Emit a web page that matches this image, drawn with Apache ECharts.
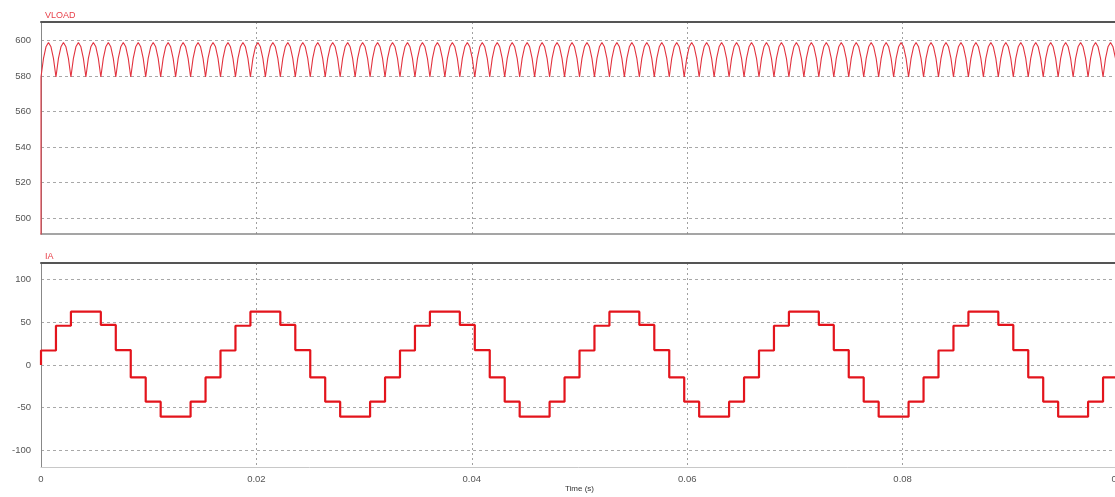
<!DOCTYPE html>
<html>
<head>
<meta charset="utf-8">
<script src="https://cdn.jsdelivr.net/npm/echarts@6/dist/echarts.min.js"></script>
<style>
html,body{margin:0;padding:0;background:#fff;}
#c{width:1115px;height:497px;}
</style>
</head>
<body>
<div id="c"></div>
<script>
// ---- data ----
const timeTicks = [0, 0.02, 0.04, 0.06, 0.08, 0.1];
const vloadTicks = [500, 520, 540, 560, 580, 600];
const iaTicks = [-100, -50, 0, 50, 100];

// VLOAD (V): sampled every vloadDt seconds from t = 0, after the start-up jump from 0 V
const vloadStartup = [0];
const vloadDt = 0.00023148;
const vloadValues = [
579.5,590,596.5,599,596.5,590,579.5,590,596.5,599,596.5,590,
579.5,590,596.5,599,596.5,590,579.5,590,596.5,599,596.5,590,
579.5,590,596.5,599,596.5,590,579.5,590,596.5,599,596.5,590,
579.5,590,596.5,599,596.5,590,579.5,590,596.5,599,596.5,590,
579.5,590,596.5,599,596.5,590,579.5,590,596.5,599,596.5,590,
579.5,590,596.5,599,596.5,590,579.5,590,596.5,599,596.5,590,
579.5,590,596.5,599,596.5,590,579.5,590,596.5,599,596.5,590,
579.5,590,596.5,599,596.5,590,579.5,590,596.5,599,596.5,590,
579.5,590,596.5,599,596.5,590,579.5,590,596.5,599,596.5,590,
579.5,590,596.5,599,596.5,590,579.5,590,596.5,599,596.5,590,
579.5,590,596.5,599,596.5,590,579.5,590,596.5,599,596.5,590,
579.5,590,596.5,599,596.5,590,579.5,590,596.5,599,596.5,590,
579.5,590,596.5,599,596.5,590,579.5,590,596.5,599,596.5,590,
579.5,590,596.5,599,596.5,590,579.5,590,596.5,599,596.5,590,
579.5,590,596.5,599,596.5,590,579.5,590,596.5,599,596.5,590,
579.5,590,596.5,599,596.5,590,579.5,590,596.5,599,596.5,590,
579.5,590,596.5,599,596.5,590,579.5,590,596.5,599,596.5,590,
579.5,590,596.5,599,596.5,590,579.5,590,596.5,599,596.5,590,
579.5,590,596.5,599,596.5,590,579.5,590,596.5,599,596.5,590,
579.5,590,596.5,599,596.5,590,579.5,590,596.5,599,596.5,590,
579.5,590,596.5,599,596.5,590,579.5,590,596.5,599,596.5,590,
579.5,590,596.5,599,596.5,590,579.5,590,596.5,599,596.5,590,
579.5,590,596.5,599,596.5,590,579.5,590,596.5,599,596.5,590,
579.5,590,596.5,599,596.5,590,579.5,590,596.5,599,596.5,590,
579.5,590,596.5,599,596.5,590,579.5,590,596.5,599,596.5,590,
579.5,590,596.5,599,596.5,590,579.5,590,596.5,599,596.5,590,
579.5,590,596.5,599,596.5,590,579.5,590,596.5,599,596.5,590,
579.5,590,596.5,599,596.5,590,579.5,590,596.5,599,596.5,590,
579.5,590,596.5,599,596.5,590,579.5,590,596.5,599,596.5,590,
579.5,590,596.5,599,596.5,590,579.5,590,596.5,599,596.5,590,
579.5,590,596.5,599,596.5,590,579.5,590,596.5,599,596.5,590,
579.5,590,596.5,599,596.5,590,579.5,590,596.5,599,596.5,590,
579.5,590,596.5,599,596.5,590,579.5,590,596.5,599,596.5,590,
579.5,590,596.5,599,596.5,590,579.5,590,596.5,599,596.5,590,
579.5,590,596.5,599,596.5,590,579.5,590,596.5,599,596.5,590,
579.5,590,596.5,599,596.5,590,579.5,590,596.5,599,596.5,590,
579.5
];

// IA (A): one level per commutation step of iaStepDur seconds, from t = 0
const iaStartup = [0];
const iaStepDur = 0.00138889;
const iaSteps = [
17,46,62.5,62.5,47,17.5,-14.5,-43,-60.5,-60.5,-43,-14.5,
17,46,62.5,62.5,47,17.5,-14.5,-43,-60.5,-60.5,-43,-14.5,
17,46,62.5,62.5,47,17.5,-14.5,-43,-60.5,-60.5,-43,-14.5,
17,46,62.5,62.5,47,17.5,-14.5,-43,-60.5,-60.5,-43,-14.5,
17,46,62.5,62.5,47,17.5,-14.5,-43,-60.5,-60.5,-43,-14.5,
17,46,62.5,62.5,47,17.5,-14.5,-43,-60.5,-60.5,-43,-14.5
];

// ---- build series data ----
const vloadData = vloadStartup.map(v => [0, v]).concat(vloadValues.map((v, i) => [i * vloadDt, v]));
const iaData = iaStartup.map(v => [0, v]).concat(iaSteps.map((v, i) => [i * iaStepDur, v]));
iaData.push([iaSteps.length * iaStepDur, iaSteps[iaSteps.length - 1]]);

const FONT = 'Liberation Sans, Arial, sans-serif';
const gridLine = { show: true, lineStyle: { color: '#a8a8a8', type: [3, 3], width: 1 } };
const vGridLine = { show: true, lineStyle: { color: '#a0a0a0', type: [2, 3], width: 1 } };

function timeAxis(gridIndex, showLabels, lineColor, lineWidth) {
  return {
    type: 'value', gridIndex: gridIndex, position: 'bottom',
    min: timeTicks[0], max: timeTicks[timeTicks.length - 1], interval: 0.02,
    axisLine: { show: true, onZero: false, lineStyle: { color: lineColor, width: lineWidth } },
    axisTick: { show: false },
    axisLabel: { show: showLabels, color: '#555', fontSize: 9.5, fontFamily: FONT, margin: 7 },
    splitLine: vGridLine
  };
}
function frameAxis(gridIndex) {
  return {
    type: 'value', gridIndex: gridIndex, position: 'top',
    min: timeTicks[0], max: timeTicks[timeTicks.length - 1],
    axisLine: { show: true, onZero: false, lineStyle: { color: '#555', width: 2 } },
    axisTick: { show: false }, axisLabel: { show: false }, splitLine: { show: false }
  };
}

const chart = echarts.init(document.getElementById('c'), null, { renderer: 'canvas' });
chart.setOption({
  animation: false,
  backgroundColor: '#ffffff',
  title: [
    { text: 'VLOAD', left: 40, top: 6, textStyle: { fontSize: 9, fontWeight: 'normal', color: '#e8404a', fontFamily: FONT } },
    { text: 'IA', left: 40, top: 247, textStyle: { fontSize: 9, fontWeight: 'normal', color: '#e8404a', fontFamily: FONT } }
  ],
  grid: [
    { left: 41, right: -3, top: 22, height: 212, outerBoundsMode: 'none', containLabel: false },
    { left: 41, right: -3, top: 263, height: 204, outerBoundsMode: 'none', containLabel: false }
  ],
  xAxis: [
    timeAxis(0, false, '#888', 1.5),
    frameAxis(0),
    Object.assign(timeAxis(1, true, '#c8c8c8', 1), {
      name: 'Time (s)', nameLocation: 'middle', nameGap: 18,
      nameTextStyle: { fontSize: 8, color: '#333', fontFamily: FONT }
    }),
    frameAxis(1)
  ],
  yAxis: [
    {
      type: 'value', gridIndex: 0, min: 491, max: 610.5,
      axisLine: { show: true, onZero: false, lineStyle: { color: '#888', width: 1 } },
      axisTick: { show: false, customValues: vloadTicks },
      axisLabel: { color: '#555', fontSize: 9.5, fontFamily: FONT, margin: 10, customValues: vloadTicks },
      splitLine: gridLine
    },
    {
      type: 'value', gridIndex: 1, min: -119.5, max: 119.5,
      axisLine: { show: true, onZero: false, lineStyle: { color: '#888', width: 1 } },
      axisTick: { show: false, customValues: iaTicks },
      axisLabel: { color: '#555', fontSize: 9.5, fontFamily: FONT, margin: 10, customValues: iaTicks },
      splitLine: gridLine
    }
  ],
  series: [
    {
      name: 'VLOAD', type: 'line', xAxisIndex: 0, yAxisIndex: 0,
      data: vloadData, showSymbol: false, symbol: 'none', clip: true,
      lineStyle: { color: '#e2333f', width: 1.1 }
    },
    {
      name: 'IA', type: 'line', xAxisIndex: 2, yAxisIndex: 1, step: 'end',
      data: iaData, showSymbol: false, symbol: 'none', clip: true,
      lineStyle: { color: '#e3141c', width: 2.2 }
    }
  ]
});
</script>
</body>
</html>
